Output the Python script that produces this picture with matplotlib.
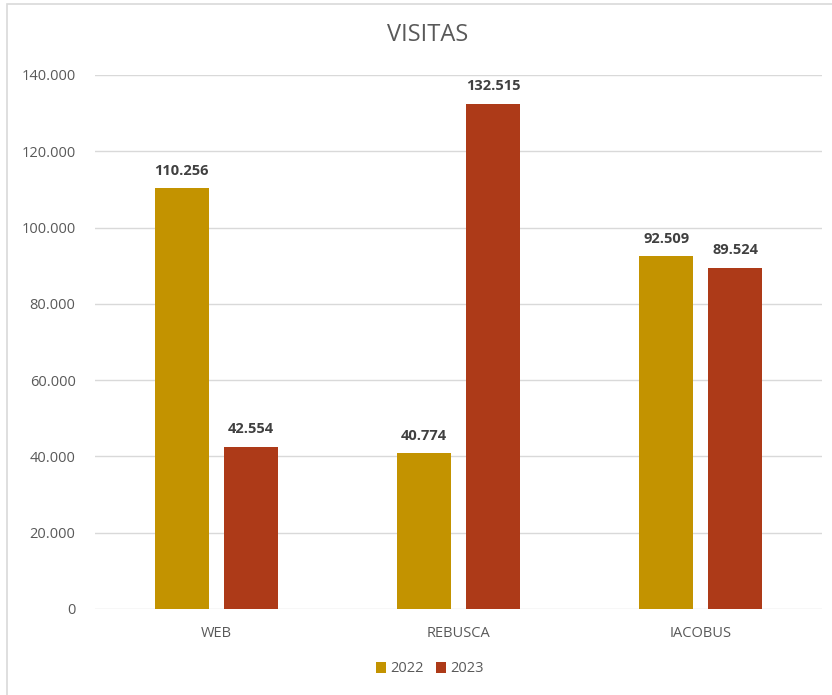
import matplotlib
matplotlib.use("Agg")
import matplotlib.pyplot as plt
from matplotlib.patches import Rectangle
from matplotlib.ticker import FuncFormatter
import numpy as np

categories = ["WEB", "REBUSCA", "IACOBUS"]
series_names = ["2022", "2023"]
values_2022 = [110256, 40774, 92509]
values_2023 = [42554, 132515, 89524]
yticks = [0, 20000, 40000, 60000, 80000, 100000, 120000, 140000]

plt.rcParams['font.family'] = ['Open Sans', 'DejaVu Sans']
TXT = '#595959'
C22 = '#C39300'
C23 = '#AD3A18'

def fmt(v):
    return f"{int(v):,}".replace(",", ".")

fig = plt.figure(figsize=(8.32, 6.95), dpi=100)
fig.patches.append(Rectangle((7/832, -0.01), 1.0, 1 - 4/695 + 0.01, transform=fig.transFigure,
                             fill=False, edgecolor='#D9D9D9', linewidth=1.2))
ax = fig.add_axes([95/832, 1 - 609/695, 727/832, (609 - 75)/695])

x = np.arange(len(categories))
w = 0.223
off = 0.142
b1 = ax.bar(x - off, values_2022, w, color=C22, label=series_names[0], zorder=3)
b2 = ax.bar(x + off, values_2023, w, color=C23, label=series_names[1], zorder=3)

for bars, vals in ((b1, values_2022), (b2, values_2023)):
    for r, v in zip(bars, vals):
        ax.annotate(fmt(v), (r.get_x() + r.get_width() / 2, v), xytext=(0, 7.5),
                    textcoords='offset points', ha='center', va='bottom',
                    fontsize=10.5, fontweight='bold', color='#404040')

ax.set_xlim(-0.5, len(categories) - 0.5)
ax.set_ylim(0, 140000)
ax.set_yticks(yticks)
ax.yaxis.set_major_formatter(FuncFormatter(lambda v, p: fmt(v)))
ax.set_xticks(x)
ax.set_xticklabels(categories)
ax.tick_params(axis='both', length=0, colors=TXT, labelsize=10.5)
ax.tick_params(axis='y', pad=14)
ax.tick_params(axis='x', pad=12)
ax.grid(axis='y', color='#D9D9D9', linewidth=1, zorder=0)
for s in ax.spines.values():
    s.set_visible(False)

fig.text(428/832, 1 - 35/695, "VISITAS", ha='center', va='center', fontsize=17, color=TXT)

leg = fig.legend(handles=[b1, b2], labels=series_names, loc='center', bbox_to_anchor=(430/832, 1 - 669/695),
                 ncol=2, frameon=False, fontsize=10.5, handlelength=0.7, handleheight=0.7,
                 handletextpad=0.3, columnspacing=0.8)
for t in leg.get_texts():
    t.set_color(TXT)

fig.savefig("out.png", dpi=100)
